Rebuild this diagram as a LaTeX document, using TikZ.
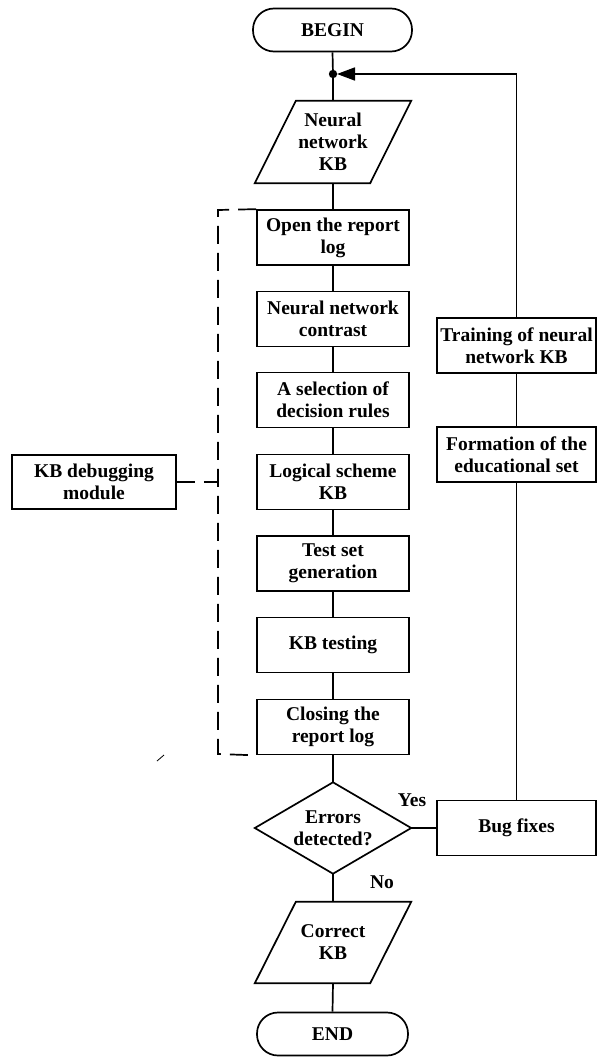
\documentclass[tikz,border=0pt]{standalone}
\usepackage{fontspec}
\setmainfont{Liberation Serif}
\usetikzlibrary{arrows.meta}
\tikzset{
  lbl/.style={font=\bfseries\fontsize{19.5}{22}\selectfont, align=center, inner sep=0pt},
  boxnode/.style={lbl, draw, line width=1.7pt, minimum width=152pt, minimum height=55pt},
  rbox/.style={lbl, draw, line width=1.7pt, minimum width=159pt, minimum height=55pt},
  term/.style={lbl, draw, line width=1.7pt, rounded corners=21pt, minimum height=43pt},
  ghost/.style={lbl, minimum width=156pt},
  conn/.style={line width=1.7pt},
  dashconn/.style={line width=1.7pt, dash pattern=on 18pt off 9pt},
}
\begin{document}
\begin{tikzpicture}[x=1pt,y=-1pt]
\useasboundingbox (0,0) rectangle (597,1057);
% terminals
\node[term, minimum width=159pt] (begin) at (332.5,30) {BEGIN};
\node[term, minimum width=151pt] (end) at (332.5,1034) {END};
% junction
\coordinate (j) at (333,74);
% parallelogram 1
\node[ghost, minimum height=82pt] (nn) at (333,142) {Neural\\network\\KB};
\draw[conn] (nn.south west) -- ([xshift=41pt]nn.north west) -- (nn.north east) -- ([xshift=-41pt]nn.south east) -- cycle;
% main boxes
\node[boxnode] (open) at (333,237.5) {Open the report\\log};
\node[boxnode] (contrast) at (333,319) {Neural network\\contrast};
\node[boxnode] (select) at (333,400) {A selection of\\decision rules};
\node[boxnode] (logic) at (333,482) {Logical scheme\\KB};
\node[boxnode] (test) at (333,563.5) {Test set\\generation};
\node[boxnode] (kbtest) at (333,645) {KB testing};
\node[boxnode] (close) at (333,727) {Closing the\\report log};
% diamond
\node[lbl, minimum width=156pt, minimum height=91pt] (dia) at (333,828) {Errors\\detected?};
\draw[conn] (dia.west) -- (dia.north) -- (dia.east) -- (dia.south) -- cycle;
% parallelogram 2
\node[ghost, minimum height=81pt] (correct) at (333,942.5) {Correct\\KB};
\draw[conn] (correct.south west) -- ([xshift=41pt]correct.north west) -- (correct.north east) -- ([xshift=-41pt]correct.south east) -- cycle;
% right column
\node[rbox] (train) at (516.5,345.5) {Training of neural\\network KB};
\node[rbox] (form) at (516.5,454.5) {Formation of the\\educational set};
\node[rbox] (bug) at (516.5,828) {Bug fixes};
% debugging module
\node[lbl, draw, line width=1.7pt, minimum width=164pt, minimum height=54pt] (dbg) at (94,482) {KB debugging\\module};
% labels
\node[lbl] (yes) at (412,800) {Yes};
\node[lbl] (no) at (382,882) {No};
% connectors main
\draw[conn] (begin.south) -- (j);
\draw[conn] (j) -- (nn.north);
\draw[conn] (nn.south) -- (open.north);
\draw[conn] (open.south) -- (contrast.north);
\draw[conn] (contrast.south) -- (select.north);
\draw[conn] (select.south) -- (logic.north);
\draw[conn] (logic.south) -- (test.north);
\draw[conn] (test.south) -- (kbtest.north);
\draw[conn] (kbtest.south) -- (close.north);
\draw[conn] (close.south) -- (dia.north);
\draw[conn] (dia.south) -- (correct.north);
\draw[conn] (correct.south) -- (end.north);
\draw[conn] (dia.east) -- (bug.west);
\draw[conn] (bug.north) -- (form.south);
\draw[conn] (form.north) -- (train.south);
\draw[conn, -{Triangle[length=18pt,width=13pt]}, shorten >=4pt] (train.north) |- (j);
\fill (j) circle (4.2pt);
% dashed bracket
\coordinate (brT) at (218,210);
\coordinate (brB) at (218,754);
\coordinate (brM) at (218,482);
\draw[dashconn] (open.north west) -- (brT) -- (brB) -- (close.south west);
\draw[dashconn] (dbg.east) -- (brM);
% stray mark
\coordinate (s1) at (157,761);
\coordinate (s2) at (164,755);
\draw[line width=0.8pt] (s1) -- (s2);
\end{tikzpicture}
\end{document}
